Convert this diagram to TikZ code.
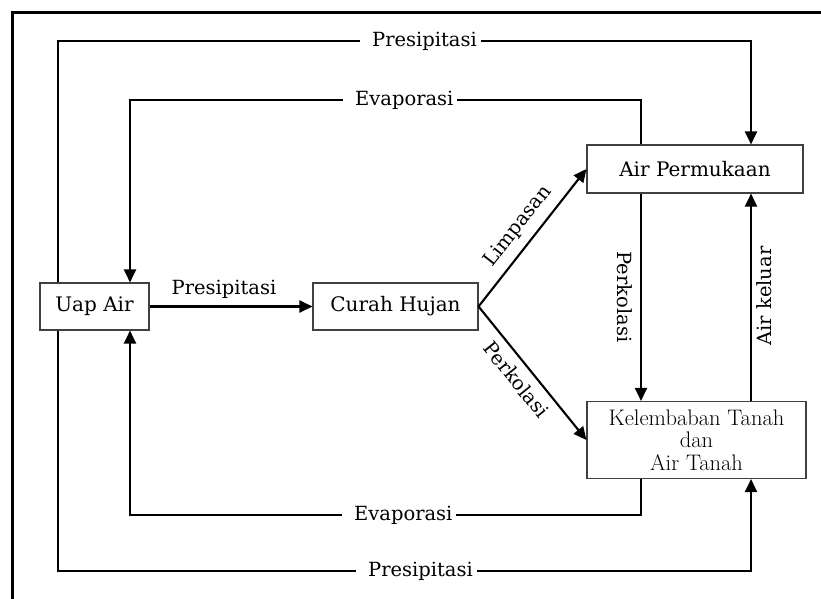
\documentclass[tikz,border=0pt]{standalone}
\usepackage{fontspec}
\newfontfamily\dvs{DejaVu Serif}
\usetikzlibrary{arrows.meta}
\begin{document}
\begin{tikzpicture}[x=1pt,y=-1pt,
  box/.style={draw=black!75, line width=1.1pt, inner sep=0pt, fill=white},
  boxtxt/.style={font=\dvs\fontsize{20}{24}\selectfont},
  flow/.style={line width=2.1pt, -{Triangle[length=13pt,width=12pt]}},
  wire/.style={line width=2.1pt},
  lbltxt/.style={font=\dvs\fontsize{19.5}{22}\selectfont},
  lbl/.style={lbltxt, fill=white, inner xsep=4pt, inner ysep=2pt, anchor=west}]
\useasboundingbox (0,0) rectangle (821,599);
% outer frame (cut off at right and bottom)
\draw[wire] (12.5,599) -- (12.5,12.5) -- (821,12.5);
% boxes
\node[box, boxtxt, minimum width=109pt, minimum height=47pt] (uap) at (94.5,306.5) {Uap Air};
\node[box, boxtxt, minimum width=165pt, minimum height=47pt] (curah) at (395.5,306.5) {Curah Hujan};
\node[box, boxtxt, minimum width=216pt, minimum height=48pt] (airp) at (695,169) {Air Permukaan};
\node[box, minimum width=219pt, minimum height=77pt, align=center,
      font=\fontsize{22.5}{22.5}\selectfont] (kel) at (696.5,440) {Kelembaban Tanah\\dan\\Air Tanah};
% helper coordinates
\coordinate (xL) at (58,0);
\coordinate (xE) at (130,0);
\coordinate (xM) at (641,0);
\coordinate (xR) at (751,0);
\coordinate (yT) at (0,41);
\coordinate (yE) at (0,100);
\coordinate (yEb) at (0,515);
\coordinate (yPb) at (0,571);
% loops
\draw[flow] (uap.north -| xL) -- (xL |- yT) -- (xR |- yT) -- (airp.north -| xR);
\draw[flow] (airp.north -| xM) -- (xM |- yE) -- (xE |- yE) -- (uap.north -| xE);
\draw[flow] (kel.south -| xM) -- (xM |- yEb) -- (xE |- yEb) -- (uap.south -| xE);
\draw[flow] (uap.south -| xL) -- (xL |- yPb) -- (xR |- yPb) -- (kel.south -| xR);
% loop labels
\node[lbl] (lp1) at (360,41) {\hspace{8pt}Presipitasi};
\node[lbl] (le1) at (343,100) {\hspace{8pt}Evaporasi};
\node[lbl] (le2) at (342,515) {\hspace{8pt}Evaporasi};
\node[lbl] (lp2) at (356,571) {\hspace{8pt}Presipitasi};
% inner arrows
\draw[flow] (uap.east) -- (curah.west);
\node[lbltxt] (lpm) at (224,289) {Presipitasi};
\draw[flow] (curah.east) -- node[lbltxt, sloped, above=6pt, inner sep=2pt] (llim) {Limpasan} (airp.west);
\draw[flow] (curah.east) -- node[lbltxt, sloped, below=6pt, inner sep=2pt, pos=0.47] (lperk) {Perkolasi} (kel.west);
\draw[flow] (airp.south -| xM) -- (kel.north -| xM);
\draw[flow] (kel.north -| xR) -- (airp.south -| xR);
\node[lbltxt, rotate=-90] (lpv) at (625,297) {Perkolasi};
\node[lbltxt, rotate=90] (lak) at (764,296) {Air keluar};
\end{tikzpicture}
\end{document}
